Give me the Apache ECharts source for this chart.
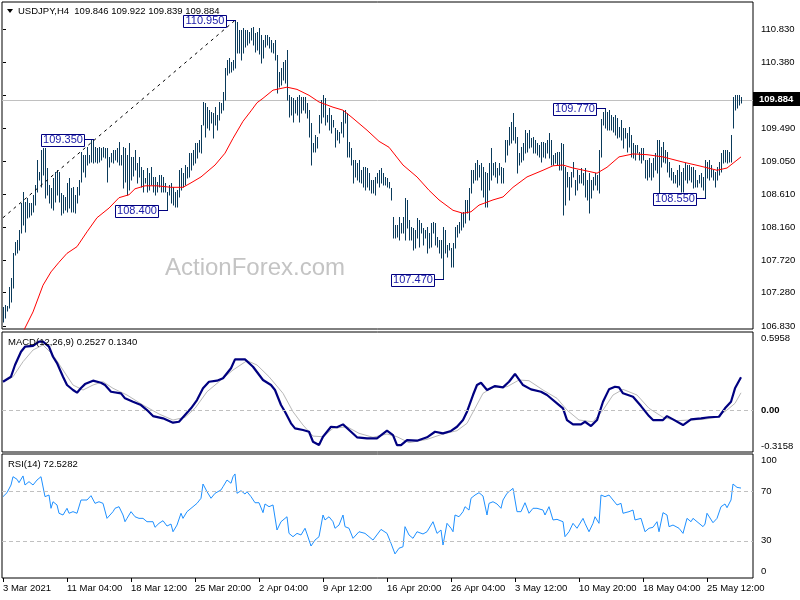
<!DOCTYPE html>
<html><head><meta charset="utf-8">
<script src="https://cdn.jsdelivr.net/npm/echarts@6/dist/echarts.min.js"></script>
<style>html,body{margin:0;padding:0;background:#fff}#c{width:800px;height:600px}</style>
</head><body><div id="c"></div>
<script>
// ---------- DATA ----------
var symbolTitle = 'USDJPY,H4';
var lastBarOHLC = [109.846, 109.922, 109.839, 109.884];

var timeLabelIdx = [0,32,64,96,128,160,192,224,256,288,320,352];
var timeLabels = ['3 Mar 2021','11 Mar 04:00','18 Mar 12:00','25 Mar 20:00','2 Apr 04:00','9 Apr 12:00','16 Apr 20:00','26 Apr 04:00','3 May 12:00','10 May 20:00','18 May 04:00','25 May 12:00'];

var priceTicks = [110.83,110.38,109.94,109.49,109.05,108.61,108.16,107.72,107.28,106.83];
var macdTicks = [0.5958, 0, -0.3158];
var rsiTicks = [100, 70, 30, 0];
var rsiLevels = [70, 30];

var barHigh = [
107.09,107.11,107.10,107.36,107.48,107.81,107.96,107.99,108.12,108.49,
108.64,108.50,108.56,108.49,108.49,108.60,108.73,109.07,108.91,109.20,
109.23,109.23,108.96,108.73,108.69,108.83,108.91,108.93,108.91,108.62,
108.60,108.57,108.76,108.83,108.69,108.70,108.60,108.70,108.80,109.18,
109.14,109.14,109.24,109.14,109.34,109.35,109.24,109.23,109.24,109.23,
109.24,109.23,109.23,109.11,109.16,109.20,109.20,109.23,109.31,109.14,
109.24,109.23,109.14,109.30,109.11,109.11,109.20,109.03,109.11,108.97,
108.93,108.83,108.96,108.89,108.97,108.84,108.84,108.77,108.86,108.86,
108.84,108.76,108.64,108.73,108.76,108.70,108.64,108.66,108.93,108.96,
108.89,109.00,108.97,109.16,109.16,109.20,109.30,109.30,109.34,109.54,
109.85,109.84,109.78,109.74,109.72,109.70,109.78,109.67,109.85,109.84,
109.98,110.31,110.42,110.44,110.39,110.42,110.95,110.93,110.82,110.82,
110.85,110.82,110.82,110.79,110.85,110.86,110.78,110.80,110.85,110.75,
110.69,110.75,110.75,110.73,110.69,110.64,110.69,110.48,110.25,110.31,
110.39,110.42,110.55,109.94,109.92,109.90,109.88,109.92,109.94,109.92,
109.92,109.92,109.84,109.74,109.57,109.30,109.40,109.38,109.67,109.88,
109.94,109.90,109.67,109.77,109.67,109.61,109.50,109.47,109.45,109.58,
109.74,109.74,109.70,109.31,109.23,109.07,109.07,109.03,109.07,108.93,
108.97,108.97,108.96,108.89,108.80,108.80,108.84,108.89,108.93,108.96,
108.89,108.84,108.83,108.77,108.69,108.30,108.19,108.19,108.30,108.22,
108.30,108.56,108.53,108.26,108.16,108.15,108.12,108.29,108.26,108.22,
108.15,108.12,108.16,108.08,108.22,108.23,108.22,108.03,107.99,107.99,
108.16,108.12,107.92,107.95,107.88,107.95,108.16,108.19,108.23,108.35,
108.37,108.53,108.53,108.69,108.93,108.93,109.03,109.07,109.00,109.03,
108.97,108.91,108.89,109.03,109.23,109.03,109.04,108.96,109.03,108.97,
108.96,109.34,109.34,109.51,109.58,109.70,109.51,109.38,109.16,109.24,
109.30,109.47,109.43,109.47,109.36,109.38,109.34,109.30,109.27,109.31,
109.31,109.30,109.34,109.43,109.34,109.14,109.16,109.18,109.18,109.30,
109.28,108.97,108.91,108.84,108.91,109.04,108.80,108.93,108.86,108.96,
108.89,108.96,108.80,108.89,108.80,108.84,108.89,108.86,109.20,109.62,
109.72,109.77,109.72,109.74,109.67,109.65,109.67,109.63,109.51,109.61,
109.50,109.50,109.43,109.51,109.40,109.30,109.27,109.27,109.18,109.23,
109.23,109.07,109.07,109.09,109.03,109.09,109.16,109.34,109.34,109.24,
109.31,109.20,109.18,109.04,108.96,108.91,108.86,108.93,109.00,108.91,
108.96,109.03,109.00,109.00,108.97,108.97,108.93,108.80,108.86,108.89,
108.84,109.07,109.04,109.07,109.00,108.93,108.91,108.97,109.04,109.16,
109.20,109.20,109.20,109.18,109.40,109.92,109.94,109.94,109.94,109.922
];
var barLow = [
106.88,106.94,107.03,107.07,107.15,107.34,107.79,107.81,107.85,108.08,
108.19,108.10,108.29,108.30,108.33,108.37,108.46,108.64,108.80,108.70,
108.87,108.56,108.60,108.49,108.42,108.39,108.50,108.60,108.50,108.33,
108.35,108.39,108.37,108.42,108.37,108.37,108.35,108.49,108.60,108.77,
108.91,108.84,109.00,109.03,109.04,109.03,109.04,109.03,109.04,109.07,
109.11,109.09,108.77,108.97,109.04,109.03,109.07,109.04,109.00,109.00,
108.69,108.77,108.60,108.66,108.80,108.85,108.93,108.76,108.84,108.70,
108.64,108.76,108.64,108.66,108.73,108.64,108.60,108.64,108.70,108.64,
108.64,108.64,108.40,108.60,108.49,108.46,108.43,108.43,108.57,108.66,
108.70,108.73,108.83,108.84,108.93,109.00,109.03,109.09,109.18,109.16,
109.54,109.38,109.50,109.47,109.57,109.36,109.54,109.47,109.61,109.70,
109.74,109.88,110.21,110.24,110.25,110.28,110.31,110.51,110.51,110.42,
110.51,110.59,110.62,110.64,110.69,110.62,110.52,110.55,110.50,110.38,
110.44,110.59,110.62,110.58,110.52,110.51,110.42,109.97,110.05,110.08,
110.15,110.11,109.88,109.65,109.67,109.58,109.70,109.67,109.58,109.70,
109.74,109.70,109.63,109.38,109.00,109.18,109.18,109.23,109.43,109.57,
109.65,109.54,109.58,109.47,109.43,109.51,109.24,109.34,109.30,109.43,
109.38,109.57,109.11,109.11,109.00,108.76,108.84,108.80,108.77,108.76,
108.70,108.66,108.70,108.66,108.62,108.62,108.60,108.76,108.70,108.76,
108.73,108.73,108.70,108.69,108.53,108.02,108.02,108.03,107.99,108.08,
108.08,107.99,108.15,107.99,107.99,107.85,107.88,108.02,107.90,108.08,
107.92,108.02,107.81,107.88,107.90,108.08,107.92,107.90,107.81,107.75,
107.47,107.81,107.76,107.85,107.63,107.63,107.88,108.03,108.08,108.12,
108.16,108.22,108.35,108.26,108.62,108.76,108.80,108.80,108.84,108.66,
108.57,108.43,108.43,108.66,108.80,108.87,108.84,108.76,108.87,108.76,
108.76,109.04,109.14,109.27,109.30,109.34,109.30,108.89,109.00,109.04,
109.07,109.16,109.18,109.23,109.24,109.16,109.16,109.14,109.11,109.04,
109.11,109.09,109.16,109.09,109.00,109.00,109.03,109.00,108.93,108.93,
108.33,108.46,108.70,108.53,108.70,108.84,108.60,108.66,108.76,108.76,
108.73,108.57,108.53,108.35,108.56,108.66,108.73,108.66,108.62,109.11,
109.54,109.50,109.47,109.47,109.47,109.45,109.40,109.36,109.38,109.34,
109.23,109.36,109.18,109.24,109.11,109.09,109.07,109.16,109.07,109.03,
109.07,108.83,108.80,108.84,108.80,108.84,108.93,108.89,108.60,108.97,
109.04,109.03,108.91,108.84,108.80,108.76,108.76,108.70,108.73,108.64,
108.64,108.80,108.76,108.80,108.77,108.69,108.70,108.70,108.76,108.70,
108.66,108.55,108.83,108.80,108.84,108.80,108.70,108.80,108.87,108.91,
109.03,109.04,109.03,109.04,109.04,109.50,109.74,109.77,109.81,109.839
];

// moving average [barIndex, value]
var maLine = [[10,106.75],[15,107.02],[20,107.38],[24,107.56],[28,107.69],[32,107.81],[37,107.90],[42,108.10],[47,108.29],[53,108.42],[58,108.56],[63,108.60],[66,108.68],[71,108.72],[77,108.72],[84,108.70],[90,108.70],[94,108.76],[99,108.84],[106,109.00],[111,109.16],[115,109.36],[120,109.59],[124,109.73],[127,109.84],[130,109.90],[135,110.01],[142,110.05],[147,110.02],[153,109.94],[158,109.85],[165,109.78],[170,109.74],[175,109.63],[182,109.47],[188,109.32],[193,109.24],[200,109.00],[207,108.84],[213,108.66],[218,108.53],[225,108.39],[230,108.35],[234,108.37],[238,108.46],[245,108.53],[250,108.57],[255,108.70],[262,108.84],[270,108.93],[275,108.99],[280,109.00],[285,108.96],[292,108.92],[297,108.89],[302,108.97],[308,109.11],[315,109.15],[322,109.14],[330,109.11],[340,109.04],[348,108.99],[357,108.93],[362,108.96],[369,109.11]];

// drawn trend line
var trendLine = [[0,108.29],[116,110.95]];

// marked swing points [barIndex, price]
var swingMarks = [[116,110.950],[45,109.350],[82,108.400],[220,107.470],[301,109.770],[351,108.550]];

var macdLine = [[0,0.218],[4,0.256],[6,0.345],[9,0.446],[11,0.484],[15,0.49],[18,0.522],[20,0.522],[23,0.484],[25,0.408],[27,0.36],[30,0.256],[32,0.193],[35,0.155],[37,0.135],[39,0.17],[41,0.20],[45,0.226],[49,0.21],[51,0.193],[54,0.142],[59,0.13],[61,0.092],[65,0.066],[69,0.041],[72,0.003],[75,-0.043],[80,-0.06],[85,-0.093],[88,-0.086],[91,-0.035],[94,0.016],[97,0.079],[100,0.168],[103,0.218],[107,0.226],[110,0.244],[114,0.32],[116,0.388],[121,0.388],[125,0.332],[130,0.231],[134,0.193],[136,0.155],[139,0.041],[141,-0.01],[144,-0.098],[146,-0.136],[150,-0.149],[153,-0.162],[155,-0.238],[158,-0.263],[160,-0.2],[164,-0.124],[167,-0.128],[170,-0.106],[174,-0.162],[177,-0.204],[182,-0.212],[187,-0.212],[192,-0.154],[195,-0.187],[197,-0.263],[199,-0.263],[202,-0.225],[207,-0.23],[212,-0.204],[216,-0.162],[220,-0.174],[224,-0.156],[227,-0.124],[230,-0.073],[232,-0.01],[235,0.117],[237,0.193],[239,0.21],[242,0.155],[246,0.185],[250,0.175],[253,0.218],[256,0.277],[260,0.193],[264,0.16],[269,0.142],[272,0.117],[277,0.054],[280,0.016],[282,-0.073],[285,-0.106],[289,-0.106],[291,-0.086],[294,-0.119],[297,-0.073],[300,0.066],[303,0.16],[306,0.18],[308,0.175],[310,0.13],[315,0.104],[319,0.033],[323,-0.043],[325,-0.073],[330,-0.073],[332,-0.043],[335,-0.068],[340,-0.111],[344,-0.068],[349,-0.06],[353,-0.052],[358,-0.048],[361,0.016],[364,0.066],[366,0.168],[369,0.2527]];

var signalLine = [[0,0.218],[5,0.256],[10,0.37],[15,0.459],[20,0.497],[25,0.421],[30,0.307],[35,0.193],[40,0.155],[45,0.193],[50,0.218],[55,0.168],[62,0.117],[70,0.041],[78,-0.027],[85,-0.073],[91,-0.052],[96,0.016],[102,0.142],[108,0.218],[115,0.307],[122,0.378],[127,0.345],[133,0.256],[140,0.13],[145,-0.01],[150,-0.111],[155,-0.195],[160,-0.2],[165,-0.136],[172,-0.124],[178,-0.174],[185,-0.204],[192,-0.179],[197,-0.2],[203,-0.245],[212,-0.22],[220,-0.179],[227,-0.154],[232,-0.098],[236,0.016],[240,0.13],[245,0.175],[252,0.18],[258,0.231],[263,0.226],[270,0.155],[277,0.092],[282,0.003],[288,-0.073],[295,-0.086],[300,0.003],[305,0.117],[310,0.16],[317,0.117],[323,0.016],[330,-0.052],[337,-0.078],[343,-0.073],[350,-0.068],[357,-0.052],[362,0.003],[366,0.054],[369,0.134]];

var rsiLine = [[0,65.6],[2,68.8],[4,75],[5,81.7],[7,79.6],[8,76.9],[10,82.3],[11,75],[13,77.7],[15,75],[17,79],[19,81.7],[20,83],[21,65.6],[23,66.9],[24,56.2],[25,61.5],[27,58.9],[28,52.2],[30,50.8],[32,56.2],[33,52.2],[35,53.5],[37,52.2],[39,62.9],[40,61.5],[42,62.9],[44,66.4],[46,60.2],[48,61.5],[50,60.2],[52,48.1],[55,53.5],[56,56.2],[58,57.5],[60,50.8],[61,45.4],[62,48.1],[64,53.5],[66,49.4],[68,48.1],[70,48.1],[72,45.4],[75,45.4],[76,40.9],[78,44.1],[80,46.2],[82,41.9],[84,43.5],[85,37.3],[87,42.7],[89,52.2],[90,48.1],[92,53.5],[95,57.5],[97,60.2],[99,64.3],[100,75.8],[102,69.6],[104,64.3],[106,68.3],[109,71],[110,73.6],[112,79],[114,76.4],[115,81.7],[116,83.9],[117,68.3],[119,70.4],[121,67.7],[122,69.6],[124,65.6],[126,60.7],[128,60.7],[130,52.7],[131,59.7],[133,57.5],[135,58.9],[137,38.7],[139,45.4],[140,46.8],[142,49.4],[143,36],[145,33.3],[147,36],[149,34.7],[151,40.1],[152,35.5],[154,25.8],[156,30.6],[158,33.3],[160,50.8],[161,46.8],[163,49.4],[165,45.4],[166,40.1],[168,42.7],[170,50.8],[171,41.4],[173,40.1],[175,32],[178,37.3],[181,36],[185,30.6],[189,39.2],[192,36],[194,28],[196,19.4],[198,24],[200,25.2],[201,41.4],[203,34.7],[205,32],[207,37.3],[210,35.5],[212,37.3],[215,45.4],[217,36],[219,38.7],[220,26.6],[222,44.1],[224,40.1],[225,37.3],[226,50.8],[228,49.4],[230,53.5],[231,57.5],[233,54.8],[234,64.3],[236,66.9],[238,68.8],[240,66.1],[242,50.8],[243,60.2],[245,61.5],[247,59.7],[249,56.2],[250,62.9],[252,68.3],[255,72.3],[256,73.6],[257,53.5],[259,53.5],[261,60.7],[263,52.2],[265,56.2],[267,56.2],[270,54.8],[271,50.8],[273,57.5],[275,46.8],[277,47.3],[280,45.4],[281,33.3],[283,37.3],[285,44.1],[287,40.1],[290,48.1],[291,44.1],[293,37.3],[295,44.1],[296,49.4],[298,44.1],[299,66.9],[301,65.6],[303,66.9],[305,62.9],[307,58.9],[309,60.2],[310,52.2],[313,53.5],[315,54.8],[316,46.8],[319,48.1],[321,37.3],[323,40.1],[325,40.9],[327,45.4],[328,37.3],[330,52.7],[332,50.8],[333,41.4],[335,42.7],[338,40.1],[340,36],[342,48.1],[344,45.4],[345,48.1],[348,44.1],[350,41.4],[351,43.5],[352,52.2],[355,44.6],[357,48.1],[359,57.5],[361,59.7],[362,56.7],[364,62.9],[365,75.8],[367,73.1],[368,71.5],[369,72.5282]];
var rsiLast = 72.5282;
var macdLast = [0.2527, 0.1340];

// ---------- STYLE / LAYOUT ----------
var FONT = 'Liberation Sans';
var barColor = '#0a3a5a';
var gridL = 2, gridW = 751;
var xMin = -0.5, xMax = 375;
var priceMin = 106.79, priceMax = 111.198;
var macdMin = -0.3158, macdMax = 0.5958;
var g0 = {top:2, h:327}, g1 = {top:332, h:120}, g2 = {top:454, h:124};

var barData = barHigh.map(function(h,i){ return [i, barLow[i], h]; });

function insetValue(v, min, max, hpx, px){
  var per = (max-min)/hpx;
  if (v >= max - 1e-9) return v - px*per;
  if (v <= min + 1e-9) return v + px*per;
  return v;
}
var macdTickPos = macdTicks.map(function(v){ return insetValue(v, macdMin, macdMax, g1.h, 6); });
var rsiTickPos = rsiTicks.map(function(v){ return insetValue(v, 0, 100, g2.h, 6.5); });
function nearestLabel(v, pos, labels){
  var bi=0, bd=1e9;
  for (var k=0;k<pos.length;k++){ var d=Math.abs(pos[k]-v); if(d<bd){bd=d;bi=k;} }
  return labels[bi];
}
var macdLabelTxt = macdTicks.map(function(v){ return v===0 ? '{b|0.00}' : v.toFixed(4); });
var rsiLabelTxt = rsiTicks.map(function(v){ return String(v); });

function xAxisCfg(gi, showLabels){
  return {
    type:'value', gridIndex:gi, min:xMin, max:xMax,
    axisLine:{show:false}, splitLine:{show:false},
    axisTick:{show:showLabels, customValues: timeLabelIdx, length:4, inside:false, lineStyle:{color:'#000'}},
    axisLabel:{show:showLabels, customValues: timeLabelIdx, align:'left', margin:5,
      fontFamily:FONT, fontSize:9.5, color:'#000',
      formatter:function(v){ var k = timeLabelIdx.indexOf(Math.round(v)); return k>=0 ? timeLabels[k] : ''; }}
  };
}

var dashed = {type:[4,3], color:'#c0c0c0', width:1};

var option = {
  animation:false,
  backgroundColor:'#fff',
  grid:[
    {left:gridL, top:g0.top, width:gridW, height:g0.h, show:true, borderColor:'#000', borderWidth:1},
    {left:gridL, top:g1.top, width:gridW, height:g1.h, show:true, borderColor:'#000', borderWidth:1},
    {left:gridL, top:g2.top, width:gridW, height:g2.h, show:true, borderColor:'#000', borderWidth:1}
  ],
  xAxis:[ xAxisCfg(0,false), xAxisCfg(1,false), xAxisCfg(2,true) ],
  yAxis:[
    {type:'value', gridIndex:0, position:'right', min:priceMin, max:priceMax,
     axisLine:{show:false}, splitLine:{show:false},
     axisTick:{show:true, customValues:priceTicks, length:3, lineStyle:{color:'#000'}},
     axisLabel:{customValues:priceTicks, margin:8, fontFamily:FONT, fontSize:9.5, color:'#000',
       formatter:function(v){ return v.toFixed(3); }}},
    {type:'value', gridIndex:1, position:'right', min:macdMin, max:macdMax,
     axisLine:{show:false}, splitLine:{show:false}, axisTick:{show:false},
     axisLabel:{customValues:macdTickPos, margin:8, fontFamily:FONT, fontSize:9.5, color:'#000',
       rich:{b:{fontFamily:FONT, fontSize:9.5, fontWeight:'bold', color:'#000'}},
       formatter:function(v){ return nearestLabel(v, macdTickPos, macdLabelTxt); }}},
    {type:'value', gridIndex:2, position:'right', min:0, max:100,
     axisLine:{show:false}, splitLine:{show:false}, axisTick:{show:false},
     axisLabel:{customValues:rsiTickPos, margin:8, fontFamily:FONT, fontSize:9.5, color:'#000',
       formatter:function(v){ return nearestLabel(v, rsiTickPos, rsiLabelTxt); }}}
  ],
  graphic:[
    {type:'text', x:165, y:256, z:1, silent:true, style:{text:'ActionForex.com', font:'24px "' + FONT + '"', fill:'#c4c4c4'}},
    {type:'polygon', z:100, shape:{points:[[7,9],[13,9],[10,13]]}, style:{fill:'#000'}},
    {type:'text', x:18, y:6, z:100, style:{text: symbolTitle + '  ' + lastBarOHLC.map(function(v){return v.toFixed(3);}).join(' '),
      font:'9.5px "' + FONT + '"', fill:'#000'}},
    {type:'text', x:8, y:337, z:100, style:{text:'MACD(12,26,9) ' + macdLast[0].toFixed(4) + ' ' + macdLast[1].toFixed(4),
      font:'9.5px "' + FONT + '"', fill:'#000'}},
    {type:'text', x:8, y:459, z:100, style:{text:'RSI(14) ' + rsiLast.toFixed(4), font:'9.5px "' + FONT + '"', fill:'#000'}}
  ],
  series:[
    {type:'custom', xAxisIndex:0, yAxisIndex:0, data:barData, encode:{x:0, y:[1,2]}, z:3,
     renderItem:function(params, api){
       var lo = api.coord([api.value(0), api.value(1)]);
       var hi = api.coord([api.value(0), api.value(2)]);
       var x = Math.round(lo[0]) + 0.5;
       return {type:'line', shape:{x1:x, y1:Math.round(lo[1])+0.5, x2:x, y2:Math.round(hi[1])}, style:{stroke:barColor, lineWidth:1}};
     }},
    {type:'line', xAxisIndex:0, yAxisIndex:0, data:maLine, symbol:'none', z:4,
     lineStyle:{color:'#ff0000', width:1},
     markLine:{silent:true, symbol:'none', label:{show:false}, lineStyle:{color:'#c0c0c0', width:1, type:'solid'},
       data:[{yAxis:lastBarOHLC[3]}], z:1}},
    {type:'line', xAxisIndex:0, yAxisIndex:0, data:trendLine, symbol:'none', z:4,
     lineStyle:{color:'#000', width:1, type:[3,4]}},
    {type:'custom', xAxisIndex:0, yAxisIndex:0, data:swingMarks, z:6, clip:false,
     renderItem:function(params, api){
       var p = api.coord([api.value(0), api.value(1)]);
       var x = Math.round(p[0]), y = Math.round(p[1]) + 0.5;
       var bw = 43, bh = 12, gap = 9;
       var rx = x - gap - bw;
       return {type:'group', children:[
         {type:'line', shape:{x1:x - gap, y1:y, x2:x + 1, y2:y}, style:{stroke:'#000080', lineWidth:1}},
         {type:'rect', shape:{x:rx + 0.5, y:Math.round(y - bh/2) + 0.5, width:bw, height:bh},
          style:{fill:'#fff', stroke:'#000080', lineWidth:1}},
         {type:'text', x:rx + bw/2 + 0.5, y:y + 0.5, style:{text:api.value(1).toFixed(3), fill:'#1a1aa8',
           font:'11px "' + FONT + '"', align:'center', verticalAlign:'middle'}}
       ]};
     }},
    {type:'custom', xAxisIndex:0, yAxisIndex:0, data:[[xMax, lastBarOHLC[3]]], z:20, clip:false,
     renderItem:function(params, api){
       var p = api.coord([api.value(0), api.value(1)]);
       var y = Math.round(p[1]);
       return {type:'group', children:[
         {type:'rect', shape:{x:Math.round(p[0]), y:y - 7, width:48, height:14}, style:{fill:'#000'}},
         {type:'text', x:Math.round(p[0]) + 6, y:y, style:{text:api.value(1).toFixed(3), fill:'#fff',
           font:'bold 9.5px "' + FONT + '"', verticalAlign:'middle'}}
       ]};
     }},
    {type:'line', xAxisIndex:1, yAxisIndex:1, data:signalLine, symbol:'none', z:3,
     lineStyle:{color:'#b8b8b8', width:1},
     markLine:{silent:true, symbol:'none', label:{show:false}, lineStyle:dashed, data:[{yAxis:0}]}},
    {type:'line', xAxisIndex:1, yAxisIndex:1, data:macdLine, symbol:'none', z:4,
     lineStyle:{color:'#000080', width:2.2}},
    {type:'line', xAxisIndex:2, yAxisIndex:2, data:rsiLine, symbol:'none', z:4,
     lineStyle:{color:'#1e90ff', width:1},
     markLine:{silent:true, symbol:'none', label:{show:false}, lineStyle:dashed,
       data:rsiLevels.map(function(v){ return {yAxis:v}; })}}
  ]
};
var chart = echarts.init(document.getElementById('c'), null, {renderer:'canvas'});
chart.setOption(option);
</script>
</body></html>
